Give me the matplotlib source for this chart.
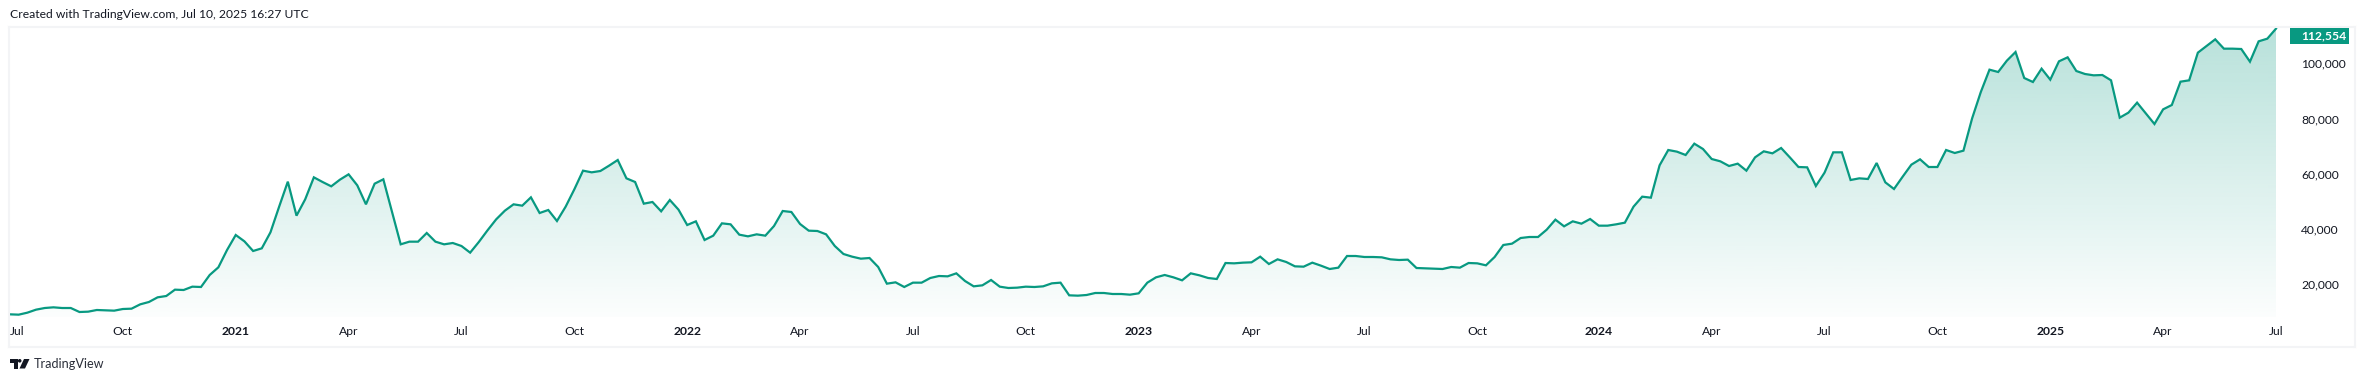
"""Weekly price area chart in the style of a TradingView snapshot."""

import matplotlib

matplotlib.use("Agg")

import matplotlib.dates as mdates
import matplotlib.pyplot as plt
import numpy as np
import pandas as pd
from matplotlib.patches import Polygon, Rectangle

# -----------------------------
# Data
# -----------------------------
startDate = "2020-06-29"

prices2020 = [
    9140, 9020, 9745, 10830, 11430, 11675, 11430, 11430, 9985, 10105, 10710, 10590, 10470,
    11070, 11190, 12760, 13605, 15295, 15775, 18070, 17950, 19155, 19035, 23380, 26155, 32430,
]
prices2021 = [
    37860, 35565, 32065, 33030, 38825, 48115, 57165, 44855, 50770, 58730, 57045, 55475, 57885,
    59820, 55835, 48960, 56440, 58010, 46185, 34480, 35445, 35445, 38580, 35445, 34480, 34960,
    33875, 31465, 35325, 39545, 43530, 46665, 48960, 48475, 51490, 45820, 46905, 42925, 48115,
    54390, 61145, 60540, 61025, 62955, 65005, 58370, 57045, 49200, 49805, 46425, 50525, 47030,
]
prices2022 = [
    41475, 42805, 36050, 37615, 42080, 41720, 37980, 37375, 38100, 37615, 41115, 46545, 46185,
    41840, 39425, 39305, 38100, 33875, 30980, 30015, 29290, 29530, 26275, 20240, 20725, 19035,
    20605, 20605, 22295, 23015, 22895, 23980, 21205, 19275, 19640, 21570, 19155, 18675, 18795,
    19155, 19035, 19275, 20360, 20605, 16020, 15900, 16140, 16865, 16865, 16500, 16500, 16260,
]
prices2023 = [
    16740, 20605, 22535, 23380, 22535, 21450, 23980, 23260, 22295, 21930, 27720, 27600, 27845,
    27965, 30015, 27360, 29050, 28085, 26515, 26395, 27845, 26755, 25550, 26035, 30255, 30255,
    29895, 29895, 29775, 29050, 28810, 28930, 25910, 25790, 25670, 25550, 26275, 26035, 27720,
    27600, 26880, 29895, 34240, 34720, 36770, 37135, 37135, 39790, 43410, 40995, 42805, 41960,
    43650,
]
prices2024 = [
    41235, 41235, 41720, 42320, 48115, 51735, 51370, 63075, 68625, 68025, 66815, 70920, 68990,
    65370, 64525, 62835, 63680, 61145, 65970, 68145, 67420, 69350, 65970, 62470, 62350, 55595,
    60420, 67780, 67780, 57765, 58370, 58130, 63920, 56920, 54510, 58975, 63315, 65250, 62470,
    62470, 68625, 67540, 68385, 80090, 89620, 97705, 96860, 100965, 104100, 94690, 93240, 98065,
]
prices2025 = [
    94085, 100720, 102170, 97220, 96135, 95655, 95775, 93845, 80330, 82140, 85760, 81900, 78035,
    83345, 84915, 93360, 93845, 103860, 106270, 108685, 105305, 105305, 105185, 100600, 107960,
    108925, 112554,
]

yTicks = [20000, 40000, 60000, 80000, 100000]

xTickDates = [
    "2020-06-29", "2020-09-28", "2020-12-28", "2021-03-29", "2021-06-28", "2021-09-27",
    "2021-12-27", "2022-03-28", "2022-06-27", "2022-09-26", "2022-12-26", "2023-03-27",
    "2023-06-26", "2023-09-25", "2024-01-01", "2024-04-01", "2024-07-01", "2024-09-30",
    "2024-12-30", "2025-03-31", "2025-06-30",
]
xTickLabels = [
    "Jul", "Oct", "2021", "Apr", "Jul", "Oct", "2022", "Apr", "Jul", "Oct", "2023", "Apr",
    "Jul", "Oct", "2024", "Apr", "Jul", "Oct", "2025", "Apr", "Jul",
]

# -----------------------------
# Style
# -----------------------------
lineColor = "#089981"
textColor = "#131722"
frameColor = "#f3f4f6"
fontName = "Lato"
fontSize = 8.7
plt.rcParams["font.family"] = [fontName, "DejaVu Sans"]

figWidth = 2364
figHeight = 382
panelLeft = 9
panelRight = 2355
panelTop = 27
panelBottom = 347
firstPointPx = 10
weekPx = 8.682
pricePerPx = 361.98
priceAtTopOfImage = 122923
fillBasePx = 317


def priceAtPx(yPx):
    """Price shown at a vertical pixel position."""
    return priceAtTopOfImage - yPx * pricePerPx


def drawGradient(ax, xValues, prices):
    """Fill under the line with a fade from green to almost white."""
    fillBase = priceAtPx(fillBasePx)
    poly = ax.fill_between(xValues, prices, fillBase, color="none", linewidth=0)

    gradient = np.zeros((256, 1, 4))
    gradient[:, 0, :3] = matplotlib.colors.to_rgb(lineColor)
    gradient[:, 0, 3] = np.linspace(0.29, 0.015, 256)

    image = ax.imshow(
        gradient,
        aspect="auto",
        origin="upper",
        extent=(xValues[0], xValues[-1], fillBase, max(prices)),
        zorder=1,
    )
    image.set_clip_path(poly.get_paths()[0], transform=ax.transData)


def drawLogo(overlay):
    """Draw the small logo and its word mark at the bottom left."""
    overlay.add_patch(Polygon([(10, 359), (17.5, 359), (17.5, 368.5), (13.5, 368.5), (13.5, 362.5), (10, 362.5)], color="#131722", lw=0))
    overlay.add_patch(plt.Circle((19.7, 360.8), 1.8, color="#131722", lw=0))
    overlay.add_patch(Polygon([(24, 359), (29.5, 359), (25, 368.5), (19.5, 368.5)], color="#131722", lw=0))
    overlay.text(34, 364, "TradingView", fontsize=9.1, color="#2a2e39", va="center", ha="left")


def plotChart(prices):
    """Draw the price panel with its axes, labels and frame."""
    dates = pd.date_range(startDate, periods=len(prices), freq="7D")
    xValues = mdates.date2num(dates)
    dayPx = weekPx / 7

    fig = plt.figure(figsize=(figWidth / 100, figHeight / 100), dpi=100, facecolor="white")
    ax = fig.add_axes([
        panelLeft / figWidth,
        1 - panelBottom / figHeight,
        (panelRight - panelLeft) / figWidth,
        (panelBottom - panelTop) / figHeight,
    ])

    drawGradient(ax, xValues, prices)
    ax.plot(xValues, prices, color=lineColor, lw=1.6, zorder=2, solid_joinstyle="miter")

    ax.set_xlim(
        xValues[0] - (firstPointPx - panelLeft) / dayPx,
        xValues[0] + (panelRight - firstPointPx) / dayPx,
    )
    ax.set_ylim(priceAtPx(panelBottom), priceAtPx(panelTop))

    ax.set_xticks(mdates.date2num(pd.to_datetime(xTickDates)))
    ax.set_xticklabels(xTickLabels)
    ax.tick_params(axis="x", length=0, pad=-21 * 0.72, labelsize=fontSize, labelcolor=textColor)
    for label, text in zip(ax.get_xticklabels(), xTickLabels):
        if (text.isdigit()):
            label.set_fontweight("bold")
    ax.get_xticklabels()[0].set_ha("left")

    ax.yaxis.tick_right()
    ax.set_yticks(yTicks)
    ax.set_yticklabels([f"{value:,}" for value in yTicks])
    ax.tick_params(axis="y", length=0, pad=-54 * 0.72, labelsize=fontSize, labelcolor=textColor)

    for spine in ax.spines.values():
        spine.set_color(frameColor)
        spine.set_linewidth(1.5)

    overlay = fig.add_axes([0, 0, 1, 1], facecolor="none")
    overlay.set_xlim(0, figWidth)
    overlay.set_ylim(figHeight, 0)
    overlay.axis("off")

    overlay.text(
        10, 14.5, "Created with TradingView.com, Jul 10, 2025 16:27 UTC",
        fontsize=fontSize, color=textColor, va="center", ha="left",
    )
    overlay.add_patch(Rectangle((2290, 27.5), 59, 16.5, color=lineColor, lw=0))
    overlay.text(
        2301, 35.5, f"{prices[-1]:,}", fontsize=fontSize, color="white",
        fontweight="bold", va="center", ha="left",
    )
    drawLogo(overlay)

    return fig


def main():
    """Join the yearly lists and save the chart."""
    prices = prices2020 + prices2021 + prices2022 + prices2023 + prices2024 + prices2025
    fig = plotChart(prices)
    fig.savefig("out.png", dpi=100)


if __name__ == "__main__":
    main()
